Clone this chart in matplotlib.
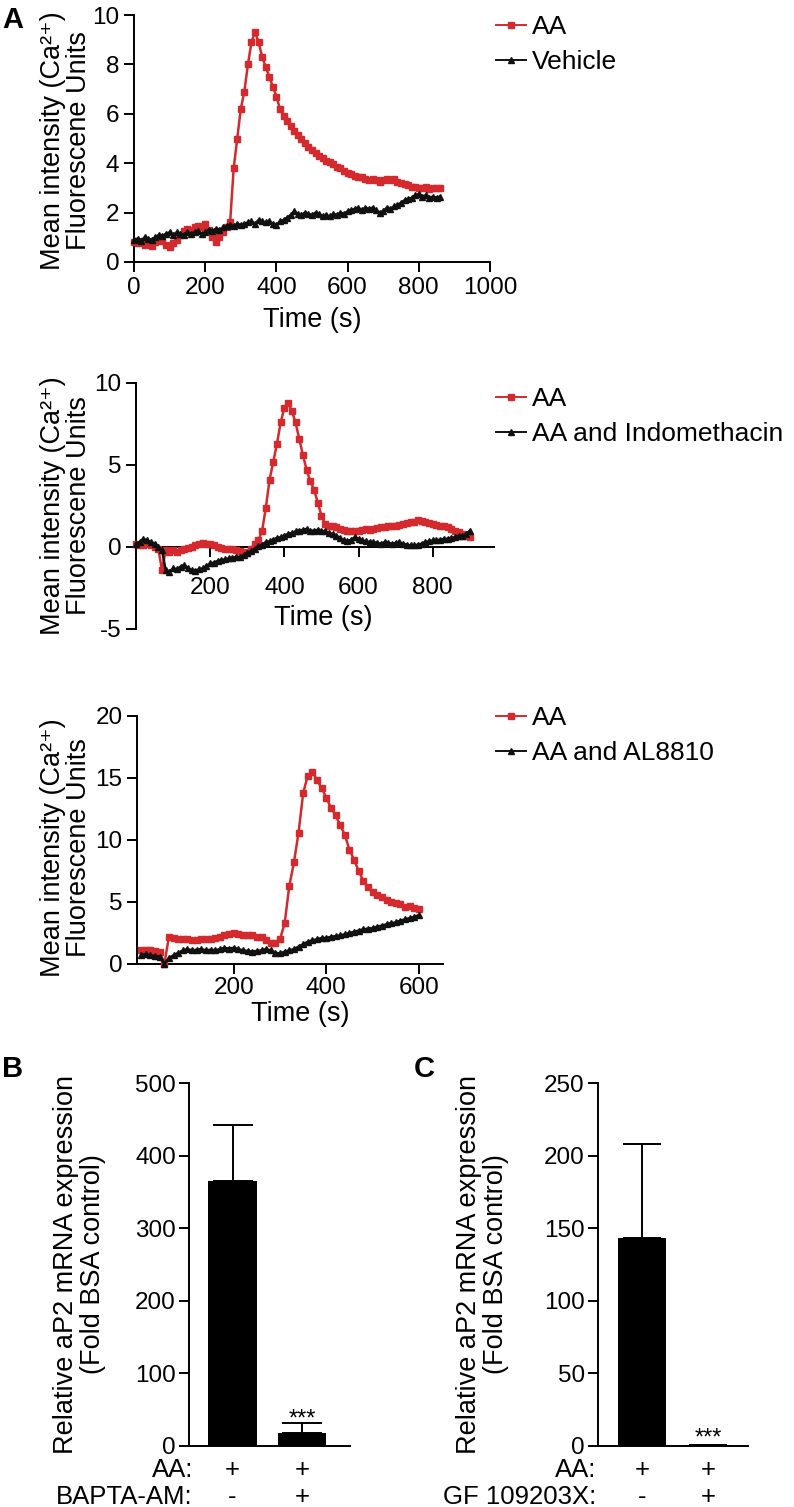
import numpy as np
import matplotlib
matplotlib.use("Agg")
import matplotlib.pyplot as plt
from matplotlib.transforms import blended_transform_factory

plt.rcParams['font.family'] = ['Liberation Sans', 'DejaVu Sans']
plt.rcParams['axes.unicode_minus'] = False

RED = '#d42a2e'
BLACK = '#111111'

# ---------------- Panel A1: AA vs Vehicle ----------------
SAMPLE_S = 10
a1_time = list(range(0, 870, SAMPLE_S))
a1_aa = [0.8, 0.75, 0.85, 0.7, 0.75, 0.65, 0.8, 0.9, 0.85, 0.7,
         0.6, 0.75, 0.9, 1.1, 1.25, 1.35, 1.3, 1.4, 1.45, 1.4,
         1.55, 1.3, 1.0, 0.8, 1.0, 1.2, 1.4, 1.6, 3.8, 5.0,
         6.2, 6.9, 8.0, 8.9, 9.3, 8.9, 8.3, 7.9, 7.5, 7.1,
         6.7, 6.2, 5.9, 5.7, 5.5, 5.3, 5.15, 5.0, 4.8, 4.65,
         4.55, 4.4, 4.3, 4.2, 4.1, 4.05, 3.95, 3.85, 3.8, 3.7,
         3.6, 3.55, 3.5, 3.45, 3.45, 3.35, 3.3, 3.35, 3.3, 3.25,
         3.3, 3.35, 3.3, 3.35, 3.25, 3.2, 3.15, 3.1, 3.05, 3.05,
         3.0, 3.0, 3.05, 2.95, 3.0, 3.0, 3.0]
a1_vehicle = [0.9, 0.95, 0.85, 1.0, 0.95, 0.9, 1.0, 1.1, 1.05, 1.15,
              1.2, 1.1, 1.2, 1.15, 1.1, 1.2, 1.15, 1.2, 1.25, 1.15,
              1.2, 1.3, 1.25, 1.35, 1.3, 1.4, 1.45, 1.5, 1.45, 1.55,
              1.5, 1.55, 1.6, 1.65, 1.55, 1.7, 1.65, 1.6, 1.65, 1.55,
              1.5, 1.65, 1.7, 1.8, 1.9, 2.05, 1.95, 1.9, 2.0, 1.95,
              1.9, 2.0, 1.95, 1.85, 1.9, 1.85, 1.95, 1.9, 2.0, 1.95,
              2.05, 2.1, 2.15, 2.2, 2.1, 2.2, 2.15, 2.2, 2.1, 2.0,
              2.05, 2.2, 2.15, 2.25, 2.3, 2.4, 2.5, 2.55, 2.6, 2.7,
              2.75, 2.65, 2.7, 2.6, 2.65, 2.6, 2.65]

# ---------------- Panel A2: AA vs AA and Indomethacin ----------------
a2_time = list(range(0, 910, SAMPLE_S))
a2_aa = [0.2, 0.15, 0.1, 0.2, 0.1, 0.0, -0.1, -1.4, -0.2, -0.3,
         -0.2, -0.3, -0.2, -0.1, -0.05, 0.0, 0.1, 0.2, 0.25, 0.2,
         0.2, 0.15, 0.0, -0.05, -0.1, -0.1, -0.15, -0.2, -0.25, -0.3,
         -0.35, -0.1, 0.2, 0.4, 1.0, 2.4, 4.1, 5.2, 6.3, 7.6,
         8.5, 8.8, 8.3, 7.6, 6.6, 5.6, 4.7, 4.0, 3.5, 2.7,
         1.9, 1.4, 1.3, 1.25, 1.2, 1.1, 1.05, 1.0, 1.0, 0.95,
         1.0, 1.05, 1.1, 1.05, 1.1, 1.15, 1.2, 1.2, 1.3, 1.25,
         1.3, 1.35, 1.4, 1.45, 1.5, 1.55, 1.65, 1.6, 1.55, 1.45,
         1.4, 1.35, 1.3, 1.25, 1.2, 1.1, 1.0, 0.9, 0.8, 0.7, 0.6]
a2_indo = [0.2, 0.3, 0.5, 0.4, 0.3, 0.2, 0.0, -0.2, -1.4, -1.5,
           -1.3, -1.35, -1.2, -1.1, -1.3, -1.4, -1.45, -1.35, -1.3, -1.15,
           -1.0, -0.95, -0.85, -0.8, -0.75, -0.7, -0.65, -0.6, -0.6, -0.5,
           -0.35, -0.25, -0.1, 0.05, 0.15, 0.3, 0.35, 0.45, 0.55, 0.6,
           0.7, 0.8, 0.85, 0.95, 1.0, 1.05, 1.1, 1.0, 1.0, 1.05,
           1.0, 0.95, 0.85, 0.8, 0.7, 0.55, 0.4, 0.35, 0.45, 0.6,
           0.5, 0.4, 0.35, 0.3, 0.3, 0.25, 0.2, 0.3, 0.25, 0.2,
           0.25, 0.3, 0.2, 0.15, 0.1, 0.1, 0.15, 0.2, 0.3, 0.35,
           0.4, 0.4, 0.45, 0.5, 0.5, 0.55, 0.6, 0.7, 0.7, 0.8, 1.0]

# ---------------- Panel A3: AA vs AA and AL8810 ----------------
a3_time = list(range(0, 610, SAMPLE_S))
a3_aa = [1.15, 1.1, 1.1, 1.05, 1.0, 0.0, 2.2, 2.1, 2.0, 2.0,
         2.0, 1.95, 1.9, 2.0, 2.05, 2.0, 2.1, 2.2, 2.3, 2.4,
         2.5, 2.4, 2.35, 2.3, 2.3, 2.2, 2.2, 1.9, 1.7, 1.7,
         2.0, 3.3, 6.3, 8.2, 10.6, 13.8, 15.2, 15.5, 14.8, 14.2,
         13.4, 12.6, 12.0, 11.2, 10.4, 9.2, 8.4, 7.5, 6.7, 6.2,
         5.8, 5.6, 5.4, 5.2, 5.0, 4.9, 4.8, 4.6, 4.7, 4.5, 4.4]
a3_al8810 = [0.75, 0.8, 0.7, 0.65, 0.6, 0.0, 0.5, 0.7, 0.9, 1.1,
             1.2, 1.1, 1.15, 1.2, 1.1, 1.15, 1.1, 1.2, 1.3, 1.25,
             1.3, 1.2, 1.1, 1.05, 1.0, 1.05, 1.1, 1.2, 1.1, 0.9,
             0.85, 1.0, 1.1, 1.2, 1.4, 1.6, 1.8, 1.9, 2.0, 2.1,
             2.1, 2.2, 2.25, 2.3, 2.4, 2.5, 2.6, 2.7, 2.8, 2.85,
             2.9, 3.0, 3.1, 3.2, 3.3, 3.35, 3.5, 3.6, 3.7, 3.8, 3.95]

# ---------------- Panels B and C: bars ----------------
b_values = [365, 18]
b_errors = [77, 13]
b_row1 = ['+', '+']
b_row2 = ['-', '+']
c_values = [143, 1]
c_errors = [65, 0]
c_row1 = ['+', '+']
c_row2 = ['-', '+']

W, H = 794, 1507
fig = plt.figure(figsize=(W / 100, H / 100), dpi=100)

TICK_FS = 17.5
LABEL_FS = 19.5
LW = 1.4


def px_axes(l, r, t, b):
    return fig.add_axes([l / W, 1 - b / H, (r - l) / W, (b - t) / H])


def style(ax):
    for s in ('top', 'right'):
        ax.spines[s].set_visible(False)
    for s in ('left', 'bottom'):
        ax.spines[s].set_linewidth(LW)
        ax.spines[s].set_color('black')
    ax.tick_params(direction='out', length=7.5, width=LW, labelsize=TICK_FS,
                   colors='black', pad=3)
    ax.set_facecolor('none')


def traces(ax, t, red, blk, lab_red, lab_blk, legend_top):
    l1, = ax.plot(t, red, color=RED, marker='s', ms=3.9, lw=1.8,
                  mec=RED, mfc=RED, label=lab_red, zorder=3, clip_on=False)
    l2, = ax.plot(t, blk, color=BLACK, marker='^', ms=4.5, lw=1.8,
                  mec=BLACK, mfc=BLACK, label=lab_blk, zorder=4, clip_on=False)
    leg = ax.legend(handles=[l1, l2], loc='upper left',
                    bbox_to_anchor=(496 / W, 1 - legend_top / H),
                    bbox_transform=fig.transFigure, frameon=False,
                    fontsize=19, handlelength=1.15, handletextpad=0.2,
                    labelspacing=0.42, borderpad=0, borderaxespad=0,
                    numpoints=1, markerscale=1.0)
    for h in leg.legend_handles:
        h.set_linewidth(1.4)
    return leg


YLAB_TRACE = 'Mean intensity (Ca²⁺)\nFluorescene Units'
YLAB_BAR = 'Relative aP2 mRNA expression\n(Fold BSA control)'

# ---- A1 ----
ax1 = px_axes(134, 490, 15, 262)
style(ax1)
traces(ax1, a1_time, a1_aa, a1_vehicle, 'AA', 'Vehicle', 15)
ax1.set_xlim(0, 1000)
ax1.set_ylim(0, 10)
ax1.set_xticks([0, 200, 400, 600, 800, 1000])
ax1.set_yticks([0, 2, 4, 6, 8, 10])
ax1.set_ylabel(YLAB_TRACE, fontsize=LABEL_FS, linespacing=1.0, va='center')
ax1.yaxis.set_label_coords(-0.19, 0.49)
ax1.set_xlabel('Time (s)', fontsize=LABEL_FS, va='center')
ax1.xaxis.set_label_coords(0.5, -0.235)

# ---- A2 ----
ax2 = px_axes(136, 494, 383, 629)
style(ax2)
traces(ax2, a2_time, a2_aa, a2_indo, 'AA', 'AA and Indomethacin', 387)
ax2.set_xlim(0, 965)
ax2.set_ylim(-5, 10)
ax2.spines['bottom'].set_position(('data', 0))
ax2.set_xticks([200, 400, 600, 800])
ax2.set_yticks([-5, 0, 5, 10])
ax2.tick_params(axis='x', pad=14)
ax2.set_ylabel(YLAB_TRACE, fontsize=LABEL_FS, linespacing=1.0, va='center')
ax2.yaxis.set_label_coords(-0.195, 0.5)
ax2.set_xlabel('Time (s)', fontsize=LABEL_FS, va='center')
ax2.xaxis.set_label_coords(0.522, 0.045)

# ---- A3 ----
ax3 = px_axes(137, 443, 716, 964)
style(ax3)
traces(ax3, a3_time, a3_aa, a3_al8810, 'AA', 'AA and AL8810', 706)
ax3.set_xlim(-9, 652)
ax3.set_ylim(0, 20)
ax3.set_xticks([200, 400, 600])
ax3.set_yticks([0, 5, 10, 15, 20])
ax3.tick_params(axis='x', pad=1.5)
ax3.set_ylabel(YLAB_TRACE, fontsize=LABEL_FS, linespacing=1.0, va='center')
ax3.yaxis.set_label_coords(-0.232, 0.47)
ax3.set_xlabel('Time (s)', fontsize=LABEL_FS, va='center')
ax3.xaxis.set_label_coords(0.533, -0.2)


# ---- Bars ----
def bar_panel(l, r, centers_px, vals, errs, ymax, yticks, row1, row2,
              row_names, name_right_px, ylab_x, cap, star_y):
    ax = px_axes(l, r, 1083, 1446)
    style(ax)
    spacing = centers_px[1] - centers_px[0]
    x0 = centers_px[0]
    ax.set_xlim((l - x0) / spacing, (r - x0) / spacing)
    ax.set_ylim(0, ymax)
    pos = [0, 1]
    ax.bar(pos, vals, width=48.5 / spacing, color='black', zorder=3)
    ax.errorbar(pos, vals, yerr=[[0, 0], errs], fmt='none', ecolor='black',
                elinewidth=LW, capsize=cap, capthick=LW, zorder=2)
    ax.set_xticks([])
    ax.set_yticks(yticks)
    ax.tick_params(axis='y', pad=2)
    ax.set_ylabel(YLAB_BAR, fontsize=LABEL_FS, linespacing=1.05, va='center')
    ax.yaxis.set_label_coords(ylab_x, 0.5)
    ax.text(1, star_y, '***', ha='center', va='baseline', fontsize=17)
    tr = blended_transform_factory(ax.transData, ax.transAxes)
    y1 = (1446 - 1470) / 363
    y2 = (1446 - 1497) / 363
    xn = (name_right_px - x0) / spacing
    ax.text(xn, y1, row_names[0], transform=tr, ha='right', va='center',
            fontsize=18.5)
    ax.text(xn, y2, row_names[1], transform=tr, ha='right', va='center',
            fontsize=18.5)
    for p, s1, s2 in zip(pos, row1, row2):
        ax.text(p, y1, s1, transform=tr, ha='center', va='center', fontsize=18.5)
        ax.text(p, y2, s2, transform=tr, ha='center', va='center', fontsize=18.5)
    return ax


axB = bar_panel(189, 350, (232.5, 302), b_values, b_errors, 500,
                [0, 100, 200, 300, 400, 500], b_row1, b_row2,
                ['AA:', 'BAPTA-AM:'], 193, -0.683, 14.4, 28)
axC = bar_panel(598, 748, (642, 708), c_values, c_errors, 250,
                [0, 50, 100, 150, 200, 250], c_row1, c_row2,
                ['AA:', 'GF 109203X:'], 596, -0.77, 14, 1)

# Panel letters
fig.text(2 / W, 1 - 6 / H, 'A', fontsize=21, fontweight='bold', va='top')
fig.text(2 / W, 1 - 1055 / H, 'B', fontsize=21, fontweight='bold', va='top')
fig.text(414 / W, 1 - 1055 / H, 'C', fontsize=21, fontweight='bold', va='top')

fig.savefig('out.png', dpi=100)
